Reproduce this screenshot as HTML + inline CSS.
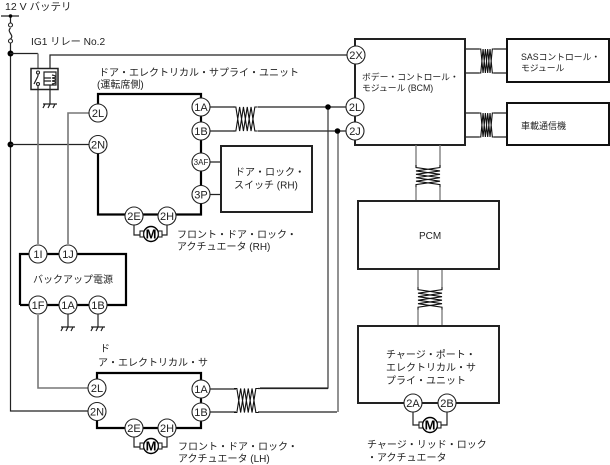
<!DOCTYPE html>
<html><head><meta charset="utf-8"><style>
html,body{margin:0;padding:0;background:#fff}
svg{display:block}
text{font-family:"Liberation Sans","Noto Sans CJK JP",sans-serif;font-size:10px;fill:#222}
.w{fill:none;stroke:#222;stroke-width:1.2}
.g{fill:none;stroke:#777;stroke-width:1.6}
.b{fill:none;stroke:#000;stroke-width:2.2}
.n{fill:#fff;stroke:#222;stroke-width:1.1}
.c text{font-size:11px;text-anchor:middle}
.t{fill:none;stroke:#111;stroke-width:1.1;vector-effect:non-scaling-stroke}
</style></head><body>
<svg width="610" height="465" viewBox="0 0 610 465" xmlns="http://www.w3.org/2000/svg">
<defs>
<g id="tw"><path class="t" d="M0 0L3 0L7 24L11 0L15 24L19 0L23 24L26 24M0 24L3 24L7 0L11 24L15 0L19 24L23 0L26 0"/></g>
<g id="gnd"><path class="w" d="M-7 0H7M-7 4L-5 0M-2 4L0 0M3 4L5 0"/></g>
<g id="mot"><circle r="7.500" fill="#fff" stroke="#000" stroke-width="1.400"/><rect x="-11" y="-3" width="3.500" height="6" class="n"/><rect x="7.500" y="-3" width="3.500" height="6" class="n"/><text y="4.500" text-anchor="middle" style="font-size:13px;font-weight:bold;fill:#000">M</text></g>
</defs>

<!-- battery bus -->
<path class="w" d="M1 16H19M10.500 16V23M10.500 28C6 32 15 35 10.500 39M10.500 43V411H88"/>
<circle cx="10.500" cy="25" r="2" class="n"/><circle cx="10.500" cy="41" r="2" class="n"/>
<circle cx="10.500" cy="53.500" r="3" fill="#000"/><circle cx="10.500" cy="144.500" r="3" fill="#000"/><circle cx="10.500" cy="16" r="1.800" fill="#000"/>
<path class="w" d="M10 53.500H38M10 144.500H90"/>
<path class="g" d="M38 53.500V68M38 90V244M38 315V388H88M68 244V113H90"/>
<path class="w" d="M50 68V55H347"/>

<!-- relay -->
<rect x="31" y="68.500" width="27" height="21" class="n" style="stroke-width:1.500"/>
<path class="w" d="M38 74V76M38 76L34 84M38 84V90M50 72H44V85H56V72H50M50 85V90M44 78H51M44 81H51M52 75C57 76 57 77 52 78C57 79 57 80 52 81C57 82 57 83 52 84"/>
<circle cx="38" cy="72.500" r="1.500" class="n"/><circle cx="38" cy="84" r="1.500" class="n"/>
<path class="w" d="M50 90V104"/><use href="#gnd" x="50" y="104"/>

<!-- upper door unit -->
<path class="b" d="M98 113V94H201V214.500H98V144"/>
<path class="w" d="M210 107H235M210 131H235M258 107H346M258 131H346"/>
<use href="#tw" transform="translate(233,107) scale(.95,1)"/>
<path class="w" d="M328 107V388H260" style="stroke:#333"/>
<path class="g" d="M338 131V412"/>
<circle cx="328" cy="107" r="2.800" fill="#000"/><circle cx="337.500" cy="131" r="2.800" fill="#000"/>

<!-- switch box -->
<rect x="221" y="146" width="91" height="66" fill="#fff" stroke="#222" stroke-width="2"/>
<path class="w" d="M210 162H221M210 194.500H221"/>
<text x="235" y="175.500">ドア・ロック・</text><text x="234" y="188.500">スイッチ (RH)</text>

<!-- upper motor -->
<path class="w" d="M134 222V235H141M167 222V235H161"/>
<use href="#mot" x="151" y="234"/>

<!-- lower door unit -->
<path class="b" d="M97 388V373H201V428H97V411"/>
<path class="w" d="M210 389H236M210 412H236M258 388.500H328M258 412H337"/>
<use href="#tw" transform="translate(234,388.500) scale(.95,1)"/>
<path class="w" d="M134 434V447H141M167 434V447H161"/>
<use href="#mot" x="151" y="446"/>

<!-- backup -->
<path class="b" d="M20 305V254H126V305H20"/>
<path class="w" d="M68 314V327M98 314V327"/>
<use href="#gnd" x="68" y="327"/><use href="#gnd" x="98" y="327"/>

<!-- BCM -->
<rect x="355" y="39" width="110" height="106" fill="#fff" stroke="#222" stroke-width="2"/>
<path class="w" d="M465 49H479M465 73H479M494 49H507M494 73H507M465 113H479M465 137H479M494 113H507M494 137H507"/>
<use href="#tw" transform="translate(479,49) scale(.58,1)"/>
<use href="#tw" transform="translate(479,113) scale(.58,1)"/>
<rect x="507" y="39" width="102" height="43" fill="#fff" stroke="#111" stroke-width="2"/>
<rect x="507" y="103" width="102" height="42" fill="#fff" stroke="#111" stroke-width="2"/>

<!-- vertical twists -->
<path class="g" style="stroke-width:1.300" d="M416 145V167M440 145V167M416 187V201M440 187V201M418 269V287M442 269V287M418 310V326M442 310V326"/>
<g transform="translate(440,165) rotate(90) scale(.85,1)"><use href="#tw"/></g>
<g transform="translate(442,287) rotate(90) scale(.88,1)"><use href="#tw"/></g>
<rect x="358" y="201" width="141" height="68" fill="#fff" stroke="#222" stroke-width="2"/>
<rect x="358" y="326" width="141" height="77" fill="#fff" stroke="#222" stroke-width="2"/>

<!-- charge motor -->
<path class="w" d="M413 410V425H420M447 410V425H440"/>
<use href="#mot" x="430" y="425"/>

<!-- connector circles -->
<g class="c">
<circle cx="98" cy="113" r="9" class="n"/><text x="98" y="117">2L</text>
<circle cx="98" cy="144.500" r="9" class="n"/><text x="98" y="148.500">2N</text>
<circle cx="201" cy="107" r="9" class="n"/><text x="201" y="111">1A</text>
<circle cx="201" cy="131" r="9" class="n"/><text x="201" y="135">1B</text>
<circle cx="201" cy="162" r="9" class="n"/><text x="201" y="165" style="font-size:8px">3AF</text>
<circle cx="201" cy="194.500" r="9" class="n"/><text x="201" y="198.500">3P</text>
<circle cx="134" cy="216" r="9" class="n"/><text x="134" y="220">2E</text>
<circle cx="167" cy="216" r="9" class="n"/><text x="167" y="220">2H</text>
<circle cx="356" cy="55" r="9" class="n"/><text x="356" y="59">2X</text>
<circle cx="355" cy="107" r="9" class="n"/><text x="355" y="111">2L</text>
<circle cx="355" cy="131" r="9" class="n"/><text x="355" y="135">2J</text>
<circle cx="38" cy="254" r="9" class="n"/><text x="38" y="258">1I</text>
<circle cx="68" cy="254" r="9" class="n"/><text x="68" y="258">1J</text>
<circle cx="38" cy="305" r="9" class="n"/><text x="38" y="309">1F</text>
<circle cx="68" cy="305" r="9" class="n"/><text x="68" y="309">1A</text>
<circle cx="98" cy="305" r="9" class="n"/><text x="98" y="309">1B</text>
<circle cx="97" cy="388" r="9" class="n"/><text x="97" y="392">2L</text>
<circle cx="97" cy="411.500" r="9" class="n"/><text x="97" y="415.500">2N</text>
<circle cx="201" cy="389" r="9" class="n"/><text x="201" y="393">1A</text>
<circle cx="201" cy="412" r="9" class="n"/><text x="201" y="416">1B</text>
<circle cx="134" cy="428" r="9" class="n"/><text x="134" y="432">2E</text>
<circle cx="167" cy="428" r="9" class="n"/><text x="167" y="432">2H</text>
<circle cx="413" cy="403" r="9" class="n"/><text x="413" y="407">2A</text>
<circle cx="447" cy="403" r="9" class="n"/><text x="447" y="407">2B</text>
</g>

<!-- labels -->
<text x="5" y="10" style="font-size:10.500px">12 V バッテリ</text>
<text x="31" y="45" style="font-size:10.200px">IG1 リレー No.2</text>
<text x="99" y="76">ドア・エレクトリカル・サプライ・ユニット</text>
<text x="97" y="88">(運転席側)</text>
<text x="177" y="238">フロント・ドア・ロック・</text>
<text x="177" y="250">アクチュエータ (RH)</text>
<text x="33" y="283">バックアップ電源</text>
<text x="100" y="352">ド</text>
<text x="98" y="366">ア・エレクトリカル・サ</text>
<text x="178" y="450">フロント・ドア・ロック・</text>
<text x="178" y="462">アクチュエータ (LH)</text>
<text x="362" y="80" style="font-size:8.800px">ボデー・コントロール・</text>
<text x="362" y="91" style="font-size:8.800px">モジュール (BCM)</text>
<text x="521" y="60" style="font-size:8.800px">SASコントロール・</text>
<text x="521" y="71" style="font-size:8.800px">モジュール</text>
<text x="521" y="129" style="font-size:9px">車載通信機</text>
<text x="419" y="239">PCM</text>
<text x="386" y="358">チャージ・ポート・</text>
<text x="386" y="371">エレクトリカル・サ</text>
<text x="386" y="384">プライ・ユニット</text>
<text x="367" y="448">チャージ・リッド・ロック</text>
<text x="367" y="461">・アクチュエータ</text>
</svg>
</body></html>
